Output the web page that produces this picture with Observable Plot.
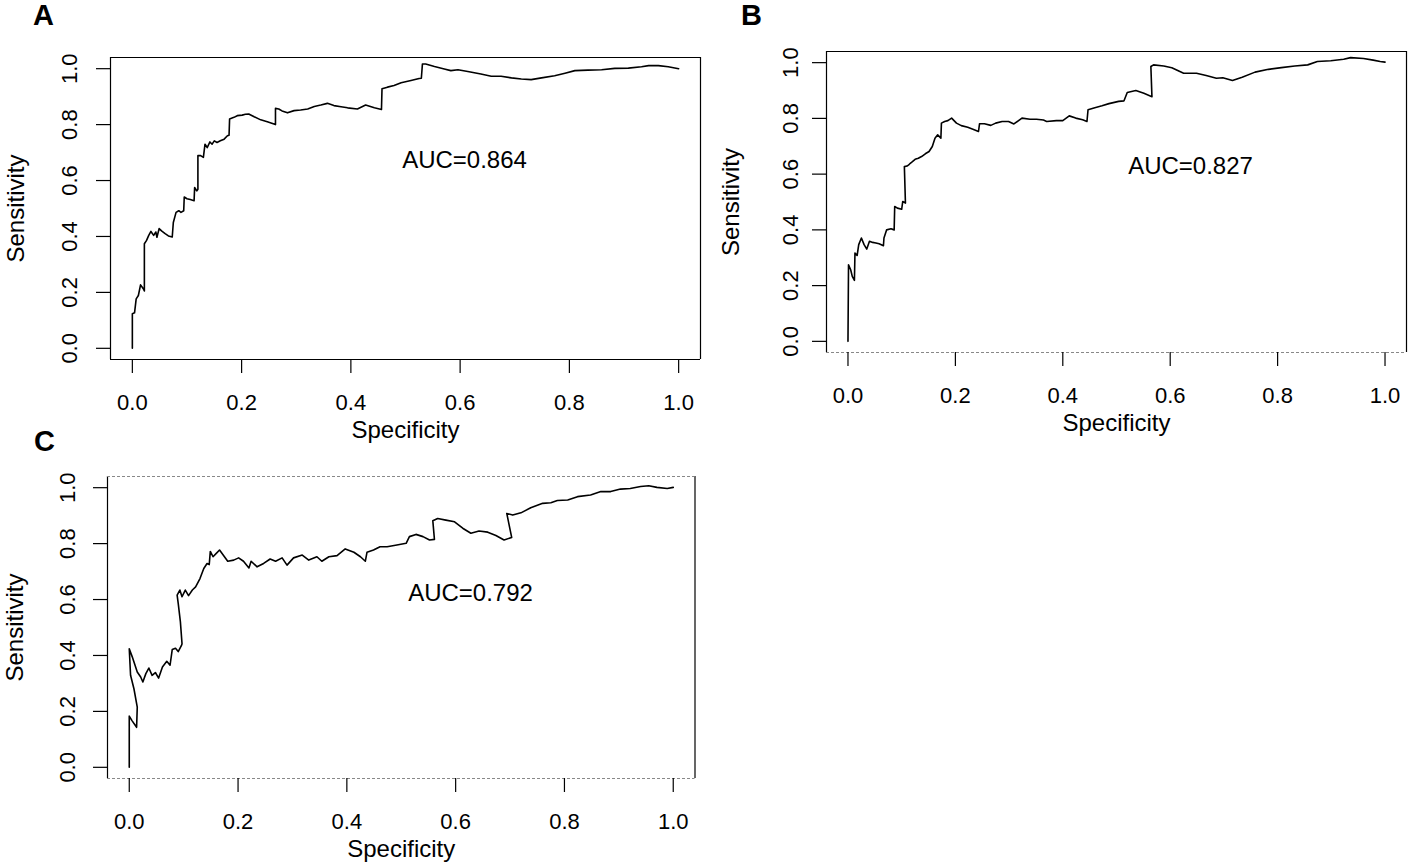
<!DOCTYPE html>
<html>
<head>
<meta charset="utf-8">
<script src="https://cdn.jsdelivr.net/npm/d3@7"></script>
<script src="https://cdn.jsdelivr.net/npm/@observablehq/plot@0.6"></script>
<style>
  html, body { margin: 0; padding: 0; background: #fff; }
  #root { position: relative; width: 1417px; height: 862px; overflow: hidden; background: #fff; }
  #root svg { position: absolute; overflow: visible; }
</style>
</head>
<body>
<div id="root"></div>
<script>
// ---------- data ----------
const xTicks = [0, 0.2, 0.4, 0.6, 0.8, 1.0];
const yTicks = [0, 0.2, 0.4, 0.6, 0.8, 1.0];
const panelLetters = ["A", "B", "C"];
const aucLabels = ["AUC=0.864", "AUC=0.827", "AUC=0.792"];
const xTitle = "Specificity";
const yTitle = "Sensitivity";

const specA = [0,0,0.004,0.007,0.011,0.015,0.020,0.022,0.022,0.026,0.030,0.034,0.039,0.043,0.045,0.049,0.054,0.060,0.066,0.073,0.075,0.080,0.085,0.089,0.094,0.095,0.100,0.106,0.113,0.114,0.118,0.120,0.120,0.125,0.130,0.133,0.137,0.142,0.146,0.150,0.155,0.161,0.168,0.174,0.177,0.178,0.186,0.192,0.201,0.207,0.213,0.223,0.235,0.247,0.262,0.262,0.268,0.274,0.284,0.296,0.308,0.321,0.333,0.345,0.357,0.369,0.382,0.394,0.412,0.427,0.443,0.456,0.457,0.467,0.479,0.492,0.510,0.525,0.529,0.531,0.537,0.553,0.571,0.583,0.596,0.614,0.638,0.657,0.675,0.694,0.712,0.730,0.749,0.773,0.792,0.810,0.834,0.859,0.883,0.908,0.932,0.945,0.963,0.981,1.000];
const sensA = [0,0.124,0.127,0.177,0.189,0.227,0.213,0.205,0.374,0.386,0.404,0.418,0.404,0.416,0.397,0.428,0.419,0.410,0.402,0.398,0.450,0.486,0.492,0.486,0.492,0.541,0.535,0.532,0.528,0.575,0.563,0.569,0.689,0.689,0.683,0.730,0.718,0.738,0.730,0.742,0.736,0.742,0.748,0.760,0.762,0.820,0.826,0.832,0.834,0.837,0.838,0.828,0.817,0.810,0.800,0.858,0.856,0.849,0.842,0.850,0.852,0.856,0.865,0.870,0.876,0.868,0.864,0.860,0.856,0.870,0.860,0.854,0.928,0.934,0.940,0.950,0.958,0.965,0.966,1.017,1.017,1.008,0.999,0.993,0.996,0.990,0.981,0.973,0.973,0.967,0.963,0.961,0.967,0.975,0.984,0.993,0.995,0.996,1.001,1.002,1.007,1.011,1.011,1.007,1.000];

const specB = [0,0.001,0.005,0.008,0.012,0.013,0.017,0.020,0.025,0.030,0.035,0.040,0.046,0.052,0.058,0.066,0.067,0.072,0.080,0.086,0.087,0.092,0.100,0.102,0.107,0.105,0.110,0.113,0.116,0.120,0.125,0.131,0.137,0.144,0.151,0.157,0.162,0.167,0.173,0.174,0.180,0.186,0.193,0.202,0.211,0.223,0.235,0.243,0.245,0.254,0.266,0.275,0.287,0.299,0.309,0.324,0.339,0.351,0.364,0.370,0.388,0.400,0.412,0.424,0.437,0.445,0.447,0.458,0.473,0.486,0.504,0.514,0.520,0.536,0.551,0.566,0.564,0.569,0.588,0.603,0.625,0.649,0.667,0.686,0.698,0.716,0.734,0.758,0.783,0.807,0.832,0.856,0.874,0.899,0.923,0.936,0.960,0.978,0.991,1.000];
const sensB = [0,0.275,0.257,0.233,0.219,0.317,0.308,0.347,0.371,0.347,0.331,0.359,0.355,0.353,0.350,0.343,0.371,0.400,0.404,0.400,0.484,0.478,0.474,0.502,0.496,0.627,0.629,0.633,0.639,0.645,0.653,0.657,0.663,0.673,0.681,0.699,0.729,0.741,0.729,0.783,0.789,0.792,0.801,0.783,0.774,0.768,0.759,0.753,0.781,0.781,0.775,0.783,0.789,0.789,0.780,0.801,0.797,0.797,0.794,0.789,0.792,0.792,0.809,0.801,0.795,0.789,0.831,0.837,0.845,0.853,0.861,0.863,0.893,0.900,0.890,0.878,0.986,0.992,0.988,0.982,0.962,0.962,0.954,0.944,0.946,0.936,0.948,0.966,0.976,0.982,0.988,0.992,1.004,1.007,1.012,1.018,1.015,1.009,1.004,1.002];

const specC = [0,0,0.005,0.0135,0.0147,0.0086,0.0024,0,0.0055,0.0147,0.021,0.025,0.0305,0.036,0.042,0.048,0.054,0.061,0.069,0.075,0.079,0.085,0.090,0.096,0.097,0.094,0.090,0.088,0.093,0.097,0.103,0.109,0.116,0.122,0.130,0.137,0.143,0.147,0.149,0.154,0.160,0.166,0.174,0.181,0.192,0.201,0.210,0.220,0.224,0.235,0.247,0.259,0.269,0.281,0.290,0.302,0.318,0.330,0.345,0.354,0.367,0.382,0.397,0.413,0.425,0.434,0.437,0.449,0.461,0.474,0.492,0.509,0.515,0.527,0.540,0.552,0.561,0.558,0.567,0.582,0.598,0.613,0.628,0.643,0.659,0.674,0.689,0.703,0.694,0.705,0.720,0.738,0.760,0.775,0.787,0.806,0.824,0.848,0.867,0.885,0.903,0.921,0.940,0.955,0.970,0.989,1.000];
const sensC = [0,0.183,0.167,0.143,0.215,0.281,0.329,0.424,0.395,0.341,0.323,0.305,0.335,0.355,0.329,0.339,0.319,0.359,0.379,0.365,0.421,0.426,0.414,0.436,0.442,0.520,0.586,0.616,0.634,0.610,0.634,0.614,0.634,0.645,0.675,0.711,0.729,0.725,0.772,0.753,0.765,0.777,0.756,0.737,0.741,0.749,0.737,0.713,0.737,0.717,0.729,0.745,0.737,0.749,0.723,0.749,0.759,0.741,0.753,0.737,0.753,0.757,0.781,0.769,0.753,0.737,0.769,0.777,0.789,0.789,0.795,0.801,0.825,0.833,0.825,0.813,0.815,0.882,0.890,0.884,0.878,0.855,0.837,0.845,0.841,0.829,0.813,0.822,0.908,0.902,0.910,0.928,0.944,0.946,0.954,0.956,0.968,0.974,0.986,0.986,0.995,0.997,1.004,1.007,1.001,0.997,1.001];

// ---------- layout ----------
const FONT = "'Liberation Sans', Arial, Helvetica, sans-serif";
const fmt = d3.format(".1f");
const mL = 112, mT = 62, mR = 14, mB = 100;

const panels = [
  {spec: specA, sens: sensA, letter: panelLetters[0], auc: aucLabels[0],
   box: {left: 110, right: 700, top: 57, bottom: 359},
   ylabDx: -41, ytitleDx: -94, letterDx: -67, letterDy: -42, aucDx: 354, aucDy: 103,
   dashTop: false, dashBottom: false},
  {spec: specB, sens: sensB, letter: panelLetters[1], auc: aucLabels[1],
   box: {left: 826, right: 1406, top: 51, bottom: 352},
   ylabDx: -36, ytitleDx: -95, letterDx: -75, letterDy: -36, aucDx: 364, aucDy: 115,
   dashTop: false, dashBottom: true},
  {spec: specC, sens: sensC, letter: panelLetters[2], auc: aucLabels[2],
   box: {left: 106.5, right: 694, top: 476, bottom: 778},
   ylabDx: -40, ytitleDx: -92, letterDx: -63, letterDy: -35, aucDx: 363, aucDy: 117,
   dashTop: true, dashBottom: true}
];

const root = document.getElementById("root");
const xDomain = [-0.04, 1.04];
const yDomain = [-0.04, 1.04];

for (const p of panels) {
  const bw = p.box.right - p.box.left;
  const bh = p.box.bottom - p.box.top;
  const data = p.spec.map((x, i) => ({x, y: p.sens[i]}));
  const solid = {stroke: "#000", strokeWidth: 1.2};
  const dashed = {stroke: "#888", strokeWidth: 1.2, strokeDasharray: "3,2"};
  const chart = Plot.plot({
    width: mL + bw + mR,
    height: mT + bh + mB,
    marginLeft: mL, marginRight: mR, marginTop: mT, marginBottom: mB,
    x: {domain: xDomain},
    y: {domain: yDomain},
    style: {fontFamily: FONT, background: "transparent", color: "#000", overflow: "visible"},
    marks: [
      Plot.ruleX([xDomain[0]], solid),
      Plot.ruleX([xDomain[1]], solid),
      Plot.ruleY([yDomain[1]], p.dashTop ? dashed : solid),
      Plot.ruleY([yDomain[0]], p.dashBottom ? dashed : solid),
      Plot.axisX({ticks: xTicks, tickSize: 14, tickPadding: 21, tickFormat: fmt,
        fontSize: 22, fontFamily: FONT, label: null, strokeWidth: 1.2, fill: "#000"}),
      Plot.axisY({ticks: yTicks, tickSize: 14, tickFormat: () => "", label: null, strokeWidth: 1.2}),
      Plot.text(yTicks, {y: d => d, text: d => fmt(d), frameAnchor: "left", dx: p.ylabDx,
        rotate: -90, fontSize: 22, fontFamily: FONT, textAnchor: "middle", lineAnchor: "middle", fill: "#000"}),
      Plot.line(data, {x: "x", y: "y", stroke: "#000", strokeWidth: 1.6}),
      Plot.text([p.auc], {text: d => d, frameAnchor: "top-left", dx: p.aucDx, dy: p.aucDy,
        fontSize: 24, fontFamily: FONT, textAnchor: "middle", lineAnchor: "middle", fill: "#000"}),
      Plot.text([xTitle], {text: d => d, frameAnchor: "bottom", dy: 71,
        fontSize: 24, fontFamily: FONT, lineAnchor: "middle", fill: "#000"}),
      Plot.text([yTitle], {text: d => d, frameAnchor: "left", dx: p.ytitleDx, rotate: -90,
        fontSize: 24, fontFamily: FONT, textAnchor: "middle", lineAnchor: "middle", fill: "#000"}),
      Plot.text([p.letter], {text: d => d, frameAnchor: "top-left", dx: p.letterDx, dy: p.letterDy,
        fontSize: 29, fontWeight: "bold", fontFamily: FONT, textAnchor: "middle", lineAnchor: "middle", fill: "#000"})
    ]
  });
  chart.style.left = (p.box.left - mL) + "px";
  chart.style.top = (p.box.top - mT) + "px";
  root.appendChild(chart);
}
</script>
</body>
</html>
